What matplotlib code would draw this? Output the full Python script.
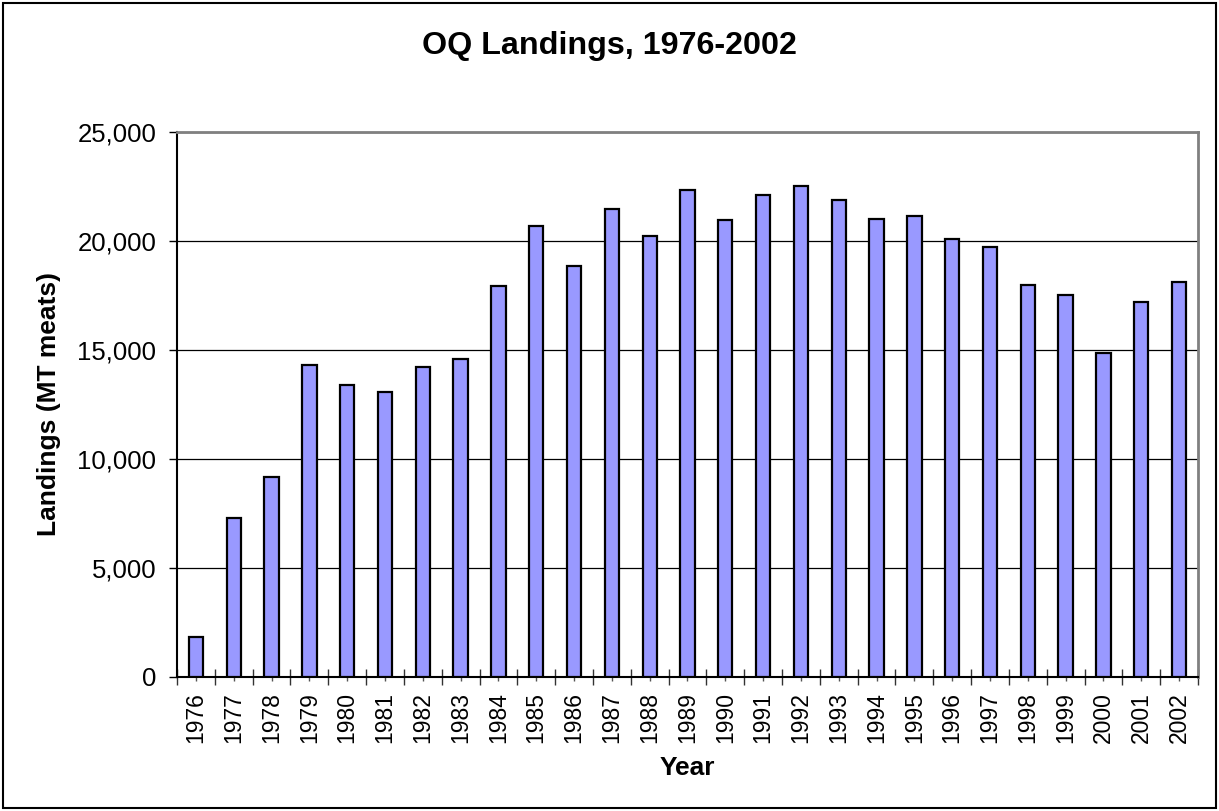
import numpy as np
import matplotlib
matplotlib.use("Agg")
import matplotlib.pyplot as plt
from matplotlib.patches import Rectangle
from matplotlib.ticker import FuncFormatter, FixedLocator

plt.rcParams['font.family'] = ['Liberation Sans', 'DejaVu Sans']

years = [1976, 1977, 1978, 1979, 1980, 1981, 1982, 1983, 1984, 1985, 1986,
         1987, 1988, 1989, 1990, 1991, 1992, 1993, 1994, 1995, 1996, 1997,
         1998, 1999, 2000, 2001, 2002]
landings = [1820, 7280, 9160, 14330, 13380, 13070, 14220, 14570, 17950, 20690,
            18870, 21490, 20250, 22330, 20950, 22100, 22500, 21880, 21000,
            21130, 20110, 19730, 18000, 17510, 14880, 17200, 18110]

fig = plt.figure(figsize=(12.19, 8.11), dpi=100)
ax = fig.add_axes([177 / 1219, 1 - 677 / 811, 1021 / 1219, 545 / 811])

x = np.arange(len(years))
ax.bar(x, landings, width=0.38, color='#9999FF', edgecolor='black',
       linewidth=1.6, zorder=3)

ax.set_xlim(-0.5, len(years) - 0.5)
ax.set_ylim(0, 25000)

# gridlines
ax.set_yticks(np.arange(0, 25001, 5000))
ax.yaxis.grid(True, color='black', linewidth=0.9, zorder=1)
ax.set_axisbelow(True)
ax.yaxis.set_major_formatter(FuncFormatter(lambda v, p: '{:,.0f}'.format(v)))
ax.tick_params(axis='y', direction='out', length=6, width=1, pad=9,
               labelsize=18.5, color='black')

# labels at bar centres, category dividers as minor ticks
ax.set_xticks(x)
ax.set_xticklabels([str(y) for y in years], rotation=90)
ax.xaxis.set_minor_locator(FixedLocator(np.arange(-0.5, len(years), 1.0)))
ax.tick_params(axis='x', which='major', direction='out', length=3, width=1,
               color='#555555', pad=8, labelsize=16.5)
ax.tick_params(axis='x', which='minor', direction='inout', length=12, width=1,
               color='#333333')

for side in ['left', 'bottom']:
    ax.spines[side].set_color('black')
    ax.spines[side].set_linewidth(1.5)
for side in ['top', 'right']:
    ax.spines[side].set_color('#808080')
    ax.spines[side].set_linewidth(2)

ax.set_ylabel('Landings (MT meats)', fontsize=19, fontweight='bold', va='center')
ax.yaxis.set_label_coords((49 - 177) / 1021, 0.5)
ax.set_xlabel('Year', fontsize=19, fontweight='bold', va='center')
ax.xaxis.set_label_coords(0.5, -(768 - 677) / 545)

fig.text(0.5, 1 - 46 / 811, 'OQ Landings, 1976-2002', ha='center', va='center',
         fontsize=23.2, fontweight='bold')

# outer chart border
fig.patches.append(Rectangle((3 / 1219, 3 / 811), 1213 / 1219, 805 / 811,
                             transform=fig.transFigure, fill=False,
                             edgecolor='black', linewidth=1.5))

fig.savefig('out.png', dpi=100)
